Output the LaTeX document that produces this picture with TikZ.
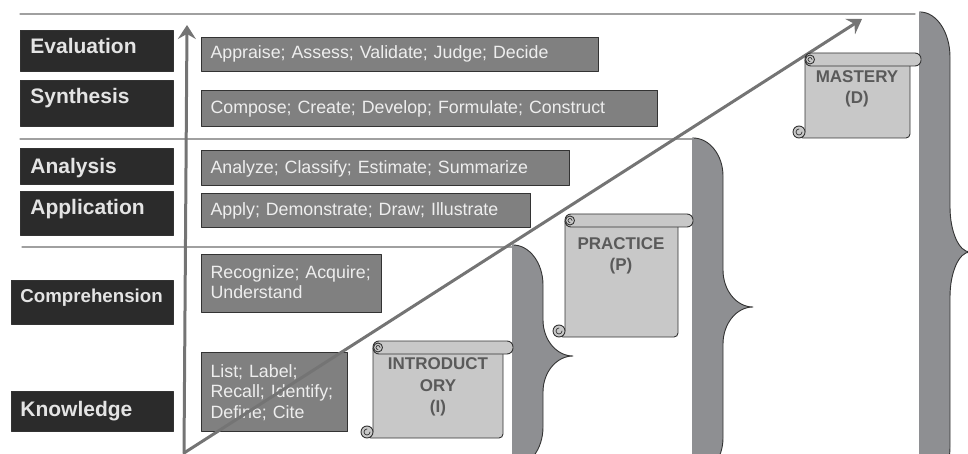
\documentclass[tikz,border=0pt]{standalone}
\usepackage{fontspec}
\setmainfont{Liberation Sans}
\usetikzlibrary{arrows.meta}
\definecolor{levelfill}{HTML}{2B2B2B}
\definecolor{leveltext}{HTML}{E4E4E4}
\definecolor{verbfill}{HTML}{808080}
\definecolor{verbtext}{HTML}{EEEEEE}
\definecolor{scrollfill}{HTML}{C8C8C8}
\definecolor{scrolltext}{HTML}{5A5A5A}
\definecolor{bracefill}{HTML}{8E8F92}
\definecolor{edgeline}{HTML}{333333}
\definecolor{rulegray}{HTML}{A0A0A0}
\definecolor{axisgray}{HTML}{747474}
\tikzset{
  levelbox/.style={draw=edgeline, fill=levelfill, text=leveltext, anchor=north west, align=left,
    inner ysep=0pt, inner xsep=10pt, text width=133pt, line width=0.8pt,
    font=\bfseries\fontsize{21}{24}\selectfont},
  lowlevelbox/.style={levelbox, inner xsep=9pt, text width=144pt},
  verbbox/.style={draw=edgeline, fill=verbfill, text=verbtext, anchor=north west, align=left,
    inner ysep=0pt, inner xsep=9pt, line width=1pt, font=\fontsize{17.8}{20.5}\selectfont},
  scrollpart/.style={draw=edgeline, fill=scrollfill, line width=0.9pt},
  stage/.style={text=scrolltext, align=center, font=\bfseries\fontsize{17}{21.5}\selectfont},
  levelrule/.style={draw=rulegray, line width=1.3pt},
  axisline/.style={draw=axisgray, line width=3pt}
}
\begin{document}
\begin{tikzpicture}[line join=round, line cap=round, >={Stealth[length=14pt,width=18pt,inset=5pt]}, x=1pt, y=-1pt]
\useasboundingbox (0,0) rectangle (968,454);
\clip (0,0) rectangle (968,454);
% rules between the level groups
\draw[levelrule] (20,14) -- (915,14);
\draw[levelrule] (20,139) -- (693,139);
\draw[levelrule] (22,247) -- (513,247);
% braces
\foreach \bl/\bt/\bs/\bx/\bm/\br/\bk in {513/245/543/573/356/40/36, 693/138/723/753/307/38/37, 920/12/950/970/252/45/45}{
  \draw[edgeline, fill=bracefill, line width=0.9pt]
    (\bl,\bt) .. controls (\bl+0.55*\bs-0.55*\bl,\bt) and (\bs,\bt+0.45*\br) .. (\bs,\bt+\br)
    -- (\bs,\bm-\bk) .. controls (\bs,\bm-0.45*\bk) and (\bx-0.55*\bx+0.55*\bs,\bm) .. (\bx,\bm)
    .. controls (\bx-0.55*\bx+0.55*\bs,\bm) and (\bs,\bm+0.45*\bk) .. (\bs,\bm+\bk)
    -- (\bs,2*\bm-\bt-\br) .. controls (\bs,2*\bm-\bt-0.45*\br) and (\bl+0.55*\bs-0.55*\bl,2*\bm-\bt) .. (\bl,2*\bm-\bt)
    -- cycle;
  \draw[bracefill, line width=1.4pt] (\bl,\bt) -- (\bl,2*\bm-\bt);
}
% levels
\node[levelbox, text height=23pt, text depth=18pt] (evaluation) at (20,30) {Evaluation};
\node[levelbox, text height=22.7pt, text depth=23.3pt] (synthesis) at (20,80) {Synthesis};
\node[levelbox, text height=24.7pt, text depth=11.3pt] (analysis) at (20,148) {Analysis};
\node[levelbox, text height=23.3pt, text depth=20.7pt] (application) at (20,191) {Application};
\node[lowlevelbox, font=\bfseries\fontsize{18.7}{22}\selectfont, text height=21.7pt, text depth=22.3pt] (comprehension) at (11,280) {Comprehension};
\node[lowlevelbox, text height=24.7pt, text depth=15.3pt] (knowledge) at (11,391) {Knowledge};
% verbs
\node[verbbox, text width=379pt, text height=21.3pt, text depth=12.7pt] (evalverbs) at (201,37) {Appraise; Assess; Validate; Judge; Decide};
\node[verbbox, text width=438pt, text height=23.3pt, text depth=12.7pt] (synthverbs) at (201,90) {Compose; Create; Develop; Formulate; Construct};
\node[verbbox, text width=350pt, text height=23.3pt, text depth=11.7pt] (analverbs) at (201,150) {Analyze; Classify; Estimate; Summarize};
\node[verbbox, text width=311pt, text height=22pt, text depth=12pt] (applverbs) at (201,193) {Apply; Demonstrate; Draw; Illustrate};
\node[verbbox, text width=162pt, text height=23.7pt, text depth=34.3pt] (compverbs) at (201,254) {Recognize;~Acquire;\\Understand};
\node[verbbox, text width=128pt, text height=24.7pt, text depth=54.3pt] (knowverbs) at (201,352) {List;~Label;\\Recall;~Identify;\\Define;~Cite};
% axes
\coordinate (origin) at (184,453);
\coordinate (ytip) at (187,25);
\coordinate (dtip) at (862,19);
\draw[axisline, ->] (origin) -- (ytip);
\draw[axisline, ->] (origin) -- (dtip);
% scrolls
\foreach \sl/\st/\sr/\sb/\sd in {373/341/513/503/438, 565/214/693/678/337, 805/53/921/910/138}{
  \filldraw[scrollpart] (\sl,\st+7) -- (\sb,\st+7) [rounded corners=4pt] -- (\sb,\sd) -- (\sl-6,\sd) [sharp corners] -- (\sl-6,\sd-6) -- (\sl,\sd-6) -- cycle;
  \filldraw[scrollpart] (\sl-6,\sd-6) circle (6);
  \draw[edgeline, line width=0.7pt] (\sl-3,\sd-6) arc (0:270:3);
  \filldraw[scrollpart, rounded corners=6pt] (\sl,\st) rectangle (\sr,\st+13);
  \filldraw[scrollpart] (\sl+5,\st+6.5) circle (4.5);
  \draw[edgeline, line width=0.7pt] (\sl+7,\st+6.5) arc (0:-270:2);
}
\node[stage] (intro) at (438,387) {INTRODUCT\\ORY\\(I)};
\node[stage] (practice) at (621,256) {PRACTICE\\(P)};
\node[stage] (mastery) at (857,89) {MASTERY\\(D)};
\end{tikzpicture}
\end{document}
